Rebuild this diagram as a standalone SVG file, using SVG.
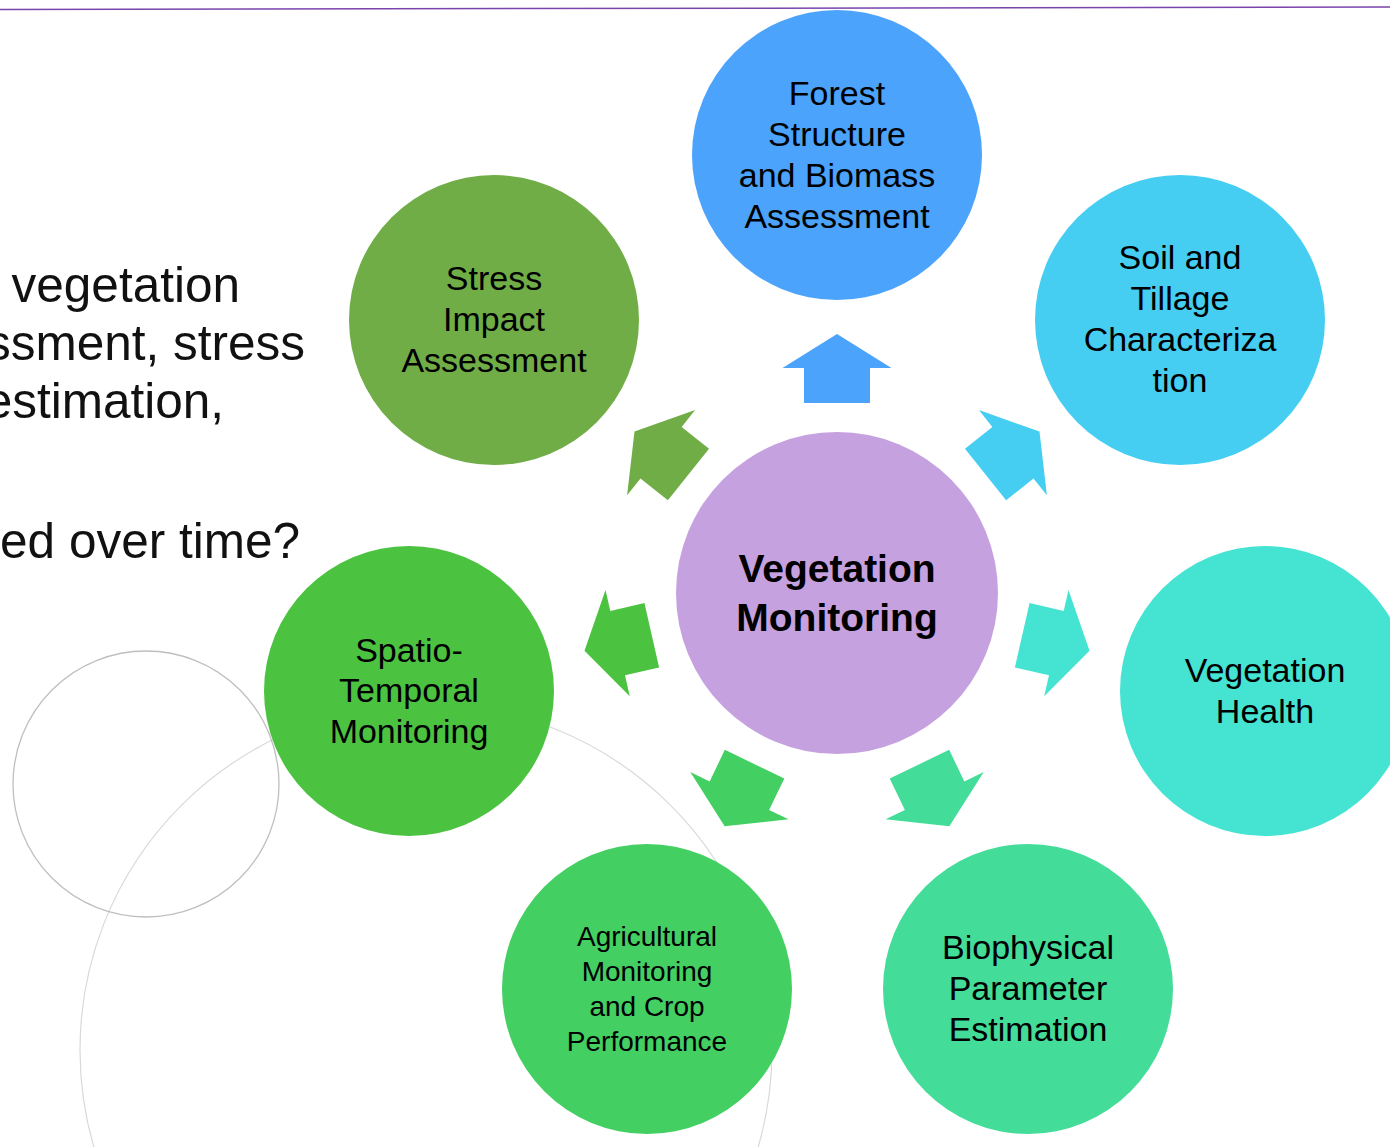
<svg xmlns="http://www.w3.org/2000/svg" width="1390" height="1147" viewBox="0 0 1390 1147">
<style>
.bg{fill:none}
.t{font-family:"Liberation Sans",Arial,sans-serif;font-size:34px;fill:#000;text-anchor:middle}
.ts{font-family:"Liberation Sans",Arial,sans-serif;font-size:28px;fill:#000;text-anchor:middle}
.tc{font-family:"Liberation Sans",Arial,sans-serif;font-size:39px;font-weight:bold;fill:#000;text-anchor:middle}
.side{font-family:"Liberation Sans",Arial,sans-serif;font-size:49.5px;fill:#111;text-anchor:end}
</style>
<defs>
<path id="arr" d="M0,-259 L54.5,-225 L33,-225 L33,-190 L-33,-190 L-33,-225 L-54.5,-225 Z"/>
</defs>
<rect width="1390" height="1147" fill="#fff"/>
<line x1="0" y1="9.5" x2="1390" y2="7" stroke="#7a44ad" stroke-width="1.5"/>
<g id="background">
<circle cx="426" cy="1050" r="346" class="bg" stroke="#d9d9d9" stroke-width="1.2"/>
<circle cx="146" cy="784" r="133" class="bg" stroke="#bfbfbf" stroke-width="1.3"/>
</g>
<g id="side-text">
<text class="side" x="240" y="302">vegetation</text>
<text class="side" x="305" y="360">ssment, stress</text>
<text class="side" x="224" y="418">estimation,</text>
<text class="side" x="300" y="558">ed over time?</text>
</g>
<g id="connectors">
<use href="#arr" fill="#4BA3FB" transform="translate(837,593)"/>
<use href="#arr" fill="#45CEF2" transform="translate(837,593) rotate(51.43)"/>
<use href="#arr" fill="#45E3D2" transform="translate(837,593) rotate(102.86)"/>
<use href="#arr" fill="#43DC98" transform="translate(837,593) rotate(154.29)"/>
<use href="#arr" fill="#43CF62" transform="translate(837,593) rotate(205.71)"/>
<use href="#arr" fill="#4CC241" transform="translate(837,593) rotate(257.14)"/>
<use href="#arr" fill="#70AD47" transform="translate(837,593) rotate(308.57)"/>
</g>
<g id="center">
<circle cx="837" cy="593" r="161" fill="#C6A1E0"/>
<text class="tc" x="837" y="582">Vegetation</text>
<text class="tc" x="837" y="631">Monitoring</text>
</g>
<g id="forest">
<circle cx="837" cy="155" r="145" fill="#4BA3FB"/>
<text class="t" x="837" y="105">Forest</text>
<text class="t" x="837" y="146">Structure</text>
<text class="t" x="837" y="187">and Biomass</text>
<text class="t" x="837" y="228">Assessment</text>
</g>
<g id="soil">
<circle cx="1180" cy="320" r="145" fill="#45CEF2"/>
<text class="t" x="1180" y="269">Soil and</text>
<text class="t" x="1180" y="310">Tillage</text>
<text class="t" x="1180" y="351">Characteriza</text>
<text class="t" x="1180" y="392">tion</text>
</g>
<g id="vegetation-health">
<circle cx="1265" cy="691" r="145" fill="#45E3D2"/>
<text class="t" x="1265" y="682">Vegetation</text>
<text class="t" x="1265" y="723">Health</text>
</g>
<g id="biophysical">
<circle cx="1028" cy="989" r="145" fill="#43DC98"/>
<text class="t" x="1028" y="959">Biophysical</text>
<text class="t" x="1028" y="1000">Parameter</text>
<text class="t" x="1028" y="1041">Estimation</text>
</g>
<g id="agricultural">
<circle cx="647" cy="989" r="145" fill="#43CF62"/>
<text class="ts" x="647" y="946">Agricultural</text>
<text class="ts" x="647" y="981">Monitoring</text>
<text class="ts" x="647" y="1016">and Crop</text>
<text class="ts" x="647" y="1051">Performance</text>
</g>
<g id="spatio-temporal">
<circle cx="409" cy="691" r="145" fill="#4CC241"/>
<text class="t" x="409" y="662">Spatio-</text>
<text class="t" x="409" y="702">Temporal</text>
<text class="t" x="409" y="743">Monitoring</text>
</g>
<g id="stress">
<circle cx="494" cy="320" r="145" fill="#70AD47"/>
<text class="t" x="494" y="290">Stress</text>
<text class="t" x="494" y="331">Impact</text>
<text class="t" x="494" y="372">Assessment</text>
</g>
</svg>
